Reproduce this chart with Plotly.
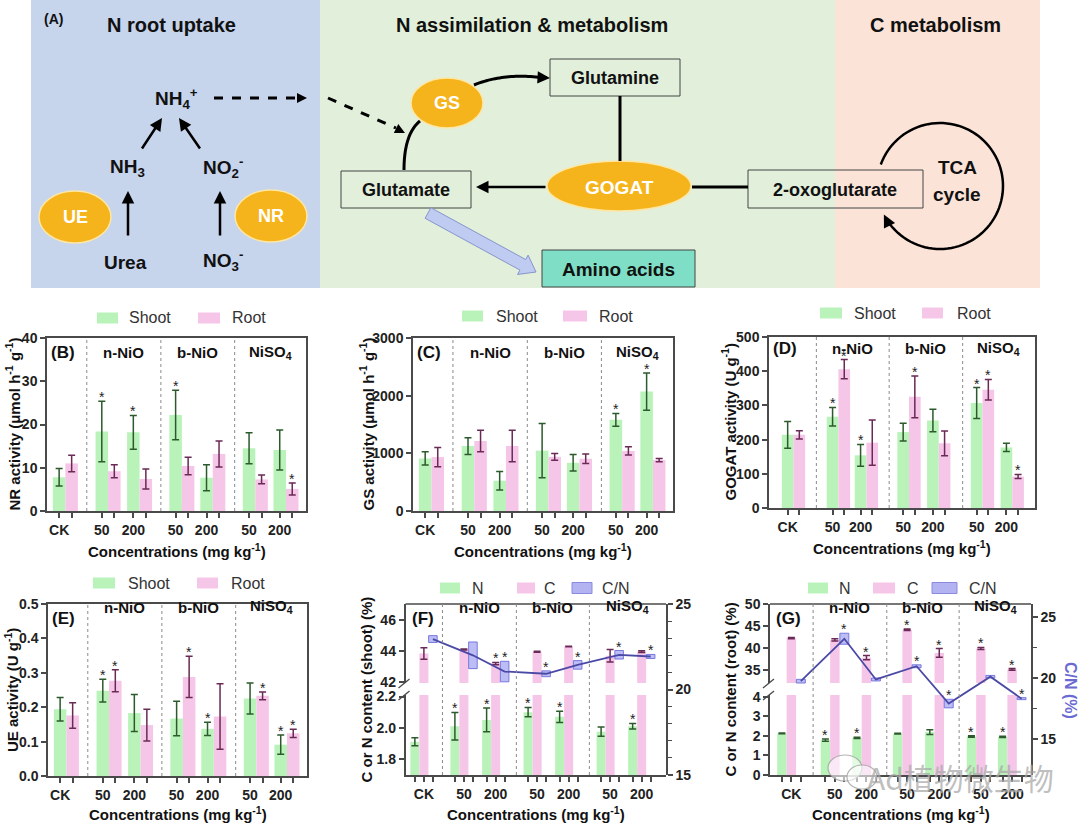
import numpy as np
import plotly.graph_objects as go

W, H = 1080, 823
FONT = "Liberation Sans, Arial, sans-serif"


def X(p):
    return p / W


def Y(p):
    return 1 - p / H


# ------------------------------------------------------------------ data
conc_labels = ["CK", "50", "200", "50", "200", "50", "200"]
group_labels = ["n-NiO", "b-NiO", "NiSO<sub>4</sub>"]

# (B) NR activity
nr_shoot = [7.8, 18.4, 18.2, 22.2, 7.7, 14.5, 14.1]
nr_shoot_sd = [2.0, 7.0, 3.9, 5.7, 3.0, 3.6, 4.6]
nr_root = [11.0, 9.2, 7.4, 10.4, 13.2, 7.3, 5.1]
nr_root_sd = [1.9, 1.5, 2.3, 2.0, 3.0, 1.0, 1.4]
nr_star_shoot = [0, 1, 1, 1, 0, 0, 0]
nr_star_root = [0, 0, 0, 0, 0, 0, 1]

# (C) GS activity
gs_shoot = [911, 1125, 525, 1047, 836, 1581, 2071]
gs_shoot_sd = [115, 144, 161, 470, 144, 110, 323]
gs_root = [935, 1214, 1128, 940, 906, 1041, 883]
gs_root_sd = [167, 187, 274, 58, 81, 72, 29]
gs_star_shoot = [0, 0, 0, 0, 0, 1, 1]
gs_star_root = [0, 0, 0, 0, 0, 0, 0]

# (D) GOGAT activity
gogat_shoot = [214, 267, 154, 222, 256, 307, 177]
gogat_shoot_sd = [39, 27, 32, 26, 33, 45, 12]
gogat_root = [214, 406, 191, 325, 189, 346, 92]
gogat_root_sd = [12, 28, 66, 61, 36, 30, 6]
gogat_star_shoot = [0, 1, 1, 0, 0, 1, 0]
gogat_star_root = [0, 1, 0, 1, 0, 1, 1]

# (E) UE activity
ue_shoot = [0.194, 0.248, 0.183, 0.167, 0.137, 0.225, 0.091]
ue_shoot_sd = [0.034, 0.033, 0.054, 0.050, 0.019, 0.045, 0.028]
ue_root = [0.176, 0.277, 0.148, 0.288, 0.173, 0.233, 0.124]
ue_root_sd = [0.037, 0.032, 0.046, 0.060, 0.095, 0.011, 0.012]
ue_star_shoot = [0, 1, 0, 0, 1, 0, 1]
ue_star_root = [0, 1, 0, 1, 0, 1, 1]

# (F) shoot C / N content and C/N
f_n = [1.91, 2.01, 2.05, 2.10, 2.07, 1.975, 2.01]
f_n_sd = [0.026, 0.088, 0.076, 0.03, 0.036, 0.03, 0.018]
f_c = [43.85, 44.1, 43.2, 43.96, 44.3, 43.7, 43.97]
f_c_sd = [0.37, 0.03, 0.07, 0.03, 0.02, 0.4, 0.06]
f_cn = [22.95, 22.0, 21.05, 20.92, 21.44, 22.03, 21.93]
f_cn_sd = [0.2, 0.78, 0.6, 0.17, 0.25, 0.25, 0.12]
f_star_n = [0, 1, 1, 1, 1, 0, 1]
f_star_c = [0, 0, 1, 0, 0, 0, 0]
f_star_cn = [0, 0, 1, 1, 1, 1, 1]

# (G) root C / N content and C/N
g_n = [2.13, 1.79, 1.90, 2.12, 2.20, 1.97, 1.95]
g_n_sd = [0.02, 0.06, 0.03, 0.02, 0.12, 0.04, 0.03]
g_c = [42.3, 41.9, 37.8, 44.2, 38.9, 39.9, 35.1]
g_c_sd = [0.15, 0.25, 0.5, 0.2, 1.0, 0.25, 0.2]
g_cn = [19.73, 23.2, 19.87, 20.95, 17.9, 20.1, 18.3]
g_cn_sd = [0.15, 0.45, 0.12, 0.12, 0.35, 0.1, 0.08]
g_star_n = [0, 1, 1, 0, 0, 1, 1]
g_star_c = [0, 0, 1, 1, 1, 1, 1]
g_star_cn = [0, 1, 0, 1, 1, 0, 1]

# ------------------------------------------------------------------ styles
GREEN = "#baf3ba"
PINK = "#f6c6e8"
GREEN_E = "#2c5a2c"
PINK_E = "#6a2a55"
CN_FILL = "rgba(145,145,240,0.6)"
CN_LINE = "rgba(110,110,220,0.9)"
CN_CURVE = "#4a4aa6"
AXC = "#4a4a4a"
TICKFONT = dict(family=FONT, size=14, color="#222", weight="bold")

fig = go.Figure()
shapes, anns, LAY = [], [], {}


def axkey(kind, i):
    return f"{kind}axis" if i == 1 else f"{kind}axis{i}"


def aref(kind, i):
    return kind if i == 1 else f"{kind}{i}"


def prect(x0, y0, x1, y1, fill, lc=None, lw=0, layer="above"):
    shapes.append(dict(type="rect", xref="paper", yref="paper", x0=X(x0), x1=X(x1),
                       y0=Y(y1), y1=Y(y0), fillcolor=fill,
                       line=dict(color=lc or fill, width=lw), layer=layer))


def pline(x0, y0, x1, y1, color="black", width=2.0, dash="solid"):
    shapes.append(dict(type="line", xref="paper", yref="paper", x0=X(x0), y0=Y(y0),
                       x1=X(x1), y1=Y(y1), line=dict(color=color, width=width, dash=dash)))


def pell(cx, cy, rx, ry, fill, lc, lw=1.5):
    shapes.append(dict(type="circle", xref="paper", yref="paper", x0=X(cx - rx), x1=X(cx + rx),
                       y0=Y(cy + ry), y1=Y(cy - ry), fillcolor=fill, line=dict(color=lc, width=lw)))


def ppath(pts, color="black", width=2.5, fill=None, closed=False):
    d = "M " + " L ".join(f"{X(x):.5f},{Y(y):.5f}" for x, y in pts)
    if closed:
        d += " Z"
    shapes.append(dict(type="path", xref="paper", yref="paper", path=d,
                       line=dict(color=color, width=width),
                       fillcolor=fill or "rgba(0,0,0,0)"))


def ptext(x, y, txt, size=16, color="#111", bold=True, xanchor="center", yanchor="middle",
          angle=0, family=FONT):
    anns.append(dict(xref="paper", yref="paper", x=X(x), y=Y(y),
                     text=f"<b>{txt}</b>" if bold else txt, showarrow=False,
                     font=dict(family=family, size=size, color=color),
                     xanchor=xanchor, yanchor=yanchor, textangle=angle))


def parrow(hx, hy, tx, ty, width=2.5, color="black", head=2, size=1.0):
    anns.append(dict(xref="paper", yref="paper", x=X(hx), y=Y(hy), ax=tx - hx, ay=ty - hy,
                     axref="pixel", ayref="pixel", text="", showarrow=True, arrowhead=head,
                     arrowsize=size, arrowwidth=width, arrowcolor=color, standoff=0))


def bez(p0, c, p1, n=30):
    t = np.linspace(0, 1, n)
    return [((1 - s) ** 2 * p0[0] + 2 * (1 - s) * s * c[0] + s ** 2 * p1[0],
             (1 - s) ** 2 * p0[1] + 2 * (1 - s) * s * c[1] + s ** 2 * p1[1]) for s in t]


# ------------------------------------------------------------------ panel A
prect(31, 0, 320, 288, "#c6d4ec", layer="below")
prect(320, 0, 835, 288, "#e1efdb", layer="below")
prect(835, 0, 1040, 288, "#fbe3d7", layer="below")
ptext(53, 19, "(A)", 14)
ptext(171, 25, "N root uptake", 20)
ptext(532, 25, "N assimilation &amp; metabolism", 20)
ptext(935, 25, "C metabolism", 20)

ptext(176, 98, "NH<sub>4</sub><sup>+</sup>", 19)
ptext(127, 168, "NH<sub>3</sub>", 19)
ptext(223, 167, "NO<sub>2</sub><sup>-</sup>", 19)
ptext(125, 262, "Urea", 19)
ptext(223, 261, "NO<sub>3</sub><sup>-</sup>", 19)

ORANGE = "#f5b41c"
pell(75, 217, 36, 26, ORANGE, "#fde7a6")
pell(271, 216, 36, 26, ORANGE, "#fde7a6")
pell(447, 103, 36, 25, ORANGE, "#fde7a6")
pell(619, 186, 72, 25, ORANGE, "#fde7a6")
ptext(75, 217, "UE", 18, color="white")
ptext(271, 216, "NR", 18, color="white")
ptext(447, 103, "GS", 18, color="white")
ptext(619, 187, "GOGAT", 19, color="white")

parrow(128, 191, 128, 237)
parrow(220, 191, 220, 237)
parrow(162, 118, 141, 150)
parrow(179, 118, 201, 150)

pline(214, 98, 298, 98, width=3, dash="dash")
parrow(307, 98, 297, 98, width=2)
pline(328, 98, 396, 128, width=3, dash="dash")
parrow(405, 133, 395, 128, width=2)

prect(341, 171, 471, 208, "rgba(0,0,0,0)", "#444", 1)
prect(550, 59, 680, 96, "rgba(0,0,0,0)", "#444", 1)
prect(748, 170, 923, 208, "rgba(0,0,0,0)", "#444", 1)
prect(542, 250, 695, 287, "#7fdfc6", "#444", 1)
ptext(406, 190, "Glutamate", 18)
ptext(615, 78, "Glutamine", 18)
ptext(835, 190, "2-oxoglutarate", 18)
ptext(618, 269, "Amino acids", 19)
ptext(957, 167, "TCA", 19)
ptext(957, 194, "cycle", 19)

ppath(bez((404, 170), (404, 134), (420, 121)), width=3)
ppath(bez((474, 85), (503, 73), (541, 77.5)), width=3)
parrow(550, 78, 540, 77.5, width=2.5)
pline(620, 96, 620, 161, width=3)
parrow(476, 187, 547, 187, width=2.5)
pline(692, 187, 748, 187, width=3)

cx, cy, r = 940, 186, 63
th = np.radians(np.linspace(-160, 149, 90))
ppath([(cx + r * np.cos(t), cy + r * np.sin(t)) for t in th], width=2.5)
te = np.radians(153)
hx, hy = cx + r * np.cos(te), cy + r * np.sin(te)
dx, dy = -np.sin(te), np.cos(te)
parrow(hx, hy, hx - 9 * dx, hy - 9 * dy, width=2.5)

T = np.array([428.0, 213.0])
P = np.array([536.0, 272.0])
d = (P - T) / np.linalg.norm(P - T)
n = np.array([-d[1], d[0]])
B = P - 15 * d
ppath([tuple(T + 6 * n), tuple(B + 6 * n), tuple(B + 11 * n), tuple(P),
       tuple(B - 11 * n), tuple(B - 6 * n), tuple(T - 6 * n)],
      color="#8795cc", width=1, fill="#bfcbf0", closed=True)


# ------------------------------------------------------------------ axis helpers
def style_x(domain, rng, anchor, tickvals, ticktext, mirror=True):
    return dict(domain=domain, range=rng, anchor=anchor, tickmode="array", tickvals=tickvals,
                ticktext=ticktext, ticks="outside", ticklen=5, tickwidth=1.5, tickcolor=AXC,
                showline=True, linecolor=AXC, linewidth=1.5, mirror=mirror, showgrid=False,
                zeroline=False, tickfont=TICKFONT, automargin=False)


def style_y(domain, rng, anchor, tickvals, fmt=None, side="left", mirror=False):
    dd = dict(domain=domain, range=rng, anchor=anchor, tickmode="array", tickvals=tickvals,
              ticks="outside", ticklen=5, tickwidth=1.5, tickcolor=AXC, showline=True,
              linecolor=AXC, linewidth=1.5, mirror=mirror, showgrid=False, zeroline=False,
              tickfont=TICKFONT, side=side, automargin=False)
    if fmt:
        dd["tickformat"] = fmt
    return dd


def star(xr, yr, x, y):
    anns.append(dict(xref=xr, yref=yr, x=x, y=y, text="*", showarrow=False, yanchor="bottom",
                     yshift=-6, font=dict(family=FONT, size=14, color="#222")))


def legend(items, yc):
    for x0, x1, fill, lc, tx, lab in items:
        prect(x0, yc - 5.5, x1, yc + 5.5, fill, lc, 1 if lc else 0)
        ptext(tx, yc, lab, 16, color="#333", bold=False, xanchor="left")


def bar(x, y, sd, color, ecolor, xr, yr, err=True, width=1.0):
    fig.add_trace(go.Bar(x=x, y=y, width=width, marker=dict(color=color, line=dict(width=0)),
                         error_y=dict(type="data", array=sd, color=ecolor, thickness=1.5,
                                      width=3.5, visible=err),
                         xaxis=xr, yaxis=yr, showlegend=False, hoverinfo="skip"))


def group_text(xr, seps, xend, ytop, label, label_x, off=14):
    bounds = list(seps) + [xend]
    for g in range(3):
        anns.append(dict(xref=xr, yref="paper", x=(bounds[g] + bounds[g + 1]) / 2,
                         y=Y(ytop + off), text=f"<b>{group_labels[g]}</b>", showarrow=False,
                         font=dict(family=FONT, size=15, color="#111")))
    ptext(label_x, ytop + off, label, 17, xanchor="left")


def separators(xr, seps, ytop, ybot):
    for s in seps:
        shapes.append(dict(type="line", xref=xr, yref="paper", x0=s, x1=s, y0=Y(ybot), y1=Y(ytop),
                           line=dict(color="#8a8a8a", width=1, dash="dot")))


def two_bar_panel(i, xpx, ypx, yr, yticks, fmt, pos, seps, xend, shoot, ssd, root, rsd,
                  sst, rst, label, ytitle, ytx, xty, leg, off=14):
    xr, yrf = aref("x", i), aref("y", i)
    tv, tt = [], []
    for k, p in enumerate(pos):
        tv += [p, p + 1]
        tt += [conc_labels[k], ""]
    LAY[axkey("x", i)] = style_x([X(xpx[0]), X(xpx[1])], [0, xend], yrf, tv, tt)
    LAY[axkey("y", i)] = style_y([Y(ypx[1]), Y(ypx[0])], yr, xr, yticks, fmt, mirror=True)
    rpos = [p + 1 for p in pos]
    bar(pos, shoot, ssd, GREEN, GREEN_E, xr, yrf)
    bar(rpos, root, rsd, PINK, PINK_E, xr, yrf)
    separators(xr, seps, ypx[0], ypx[1])
    group_text(xr, seps, xend, ypx[0], label, xpx[0] + 2, off)
    ptext(ytx, (ypx[0] + ypx[1]) / 2, ytitle, 15, angle=-90)
    ptext((xpx[0] + xpx[1]) / 2, xty, "Concentrations (mg kg<sup>-1</sup>)", 15)
    for k in range(7):
        if sst[k]:
            star(xr, yrf, pos[k], shoot[k] + ssd[k])
        if rst[k]:
            star(xr, yrf, rpos[k], root[k] + rsd[k])
    legend(leg[1], leg[0])


POS_A = [0.97, 4.38, 6.9, 10.28, 12.75, 16.15, 18.6]
SEP_A = [3.18, 9.1, 15.0]
END_A = 20.7
POS_D = [1.6, 5.45, 7.85, 11.5, 14.05, 17.8, 20.35]
SEP_D = [4.06, 10.3, 16.6]
END_D = 22.8

two_bar_panel(1, (47, 306), (338, 511), [0, 40], [0, 10, 20, 30, 40], None, POS_A, SEP_A, END_A,
              nr_shoot, nr_shoot_sd, nr_root, nr_root_sd, nr_star_shoot, nr_star_root,
              "(B)", "NR activity (μmol h<sup>-1</sup> g<sup>-1</sup>)", 13, 550,
              (318, [(97, 118, GREEN, None, 127, "Shoot"), (198, 220, PINK, None, 230, "Root")]))
two_bar_panel(2, (413, 673), (338, 511), [0, 3000], [0, 1000, 2000, 3000], None, POS_A, SEP_A,
              END_A, gs_shoot, gs_shoot_sd, gs_root, gs_root_sd, gs_star_shoot, gs_star_root,
              "(C)", "GS activity (μmol h<sup>-1</sup> g<sup>-1</sup>)", 367, 550,
              (316, [(462, 483, GREEN, None, 494, "Shoot"), (563, 587, PINK, None, 597, "Root")]))
two_bar_panel(3, (769, 1035), (337, 508), [0, 500], [0, 100, 200, 300, 400, 500], None, POS_D,
              SEP_D, END_D, gogat_shoot, gogat_shoot_sd, gogat_root, gogat_root_sd,
              gogat_star_shoot, gogat_star_root,
              "(D)", "GOGAT activity (U g<sup>-1</sup>)", 729, 547,
              (313, [(820, 842, GREEN, None, 852, "Shoot"), (922, 943, PINK, None, 955, "Root")]),
              off=11)
two_bar_panel(4, (48, 307), (604, 776), [0, 0.5], [0, 0.1, 0.2, 0.3, 0.4, 0.5], ".1f", POS_A,
              SEP_A, END_A, ue_shoot, ue_shoot_sd, ue_root, ue_root_sd, ue_star_shoot,
              ue_star_root, "(E)", "UE activity (U g<sup>-1</sup>)", 11, 813,
              (583, [(93, 115, GREEN, None, 126, "Shoot"), (197, 218, PINK, None, 229, "Root")]))


def broken_panel(xi, ylo, yup, xov, yri, xpx, lo_rng, lo_ticks, lo_fmt, up_rng, up_ticks,
                 r_rng, r_ticks, r_minor, npos, seps, xend, Nv, Nsd, Cv, Csd, CNv, CNsd,
                 nst, cst, cnst, label, ytitle, ytx, leg, rtitle=None):
    top, bot, lo_top, up_bot = 604, 775, 695, 683
    xr = aref("x", xi)
    xo = aref("x", xov)
    yl, yu, yr = aref("y", ylo), aref("y", yup), aref("y", yri)
    tv, tt = [], []
    for k, p in enumerate(npos):
        tv += [p, p + 1, p + 2]
        tt += ["", conc_labels[k], ""]
    dom = [X(xpx[0]), X(xpx[1])]
    LAY[axkey("x", xi)] = style_x(dom, [0, xend], yl, tv, tt, mirror=False)
    LAY[axkey("y", ylo)] = style_y([Y(bot), Y(lo_top)], lo_rng, xr, lo_ticks, lo_fmt)
    LAY[axkey("y", yup)] = style_y([Y(up_bot), Y(top)], up_rng, xr, up_ticks)
    LAY[axkey("x", xov)] = dict(overlaying=xr, range=[0, xend], anchor=yr, showline=False,
                                showticklabels=False, ticks="", showgrid=False, zeroline=False,
                                automargin=False)
    ry = style_y([Y(bot), Y(top)], r_rng, xo, r_ticks, side="right")
    ry["minor"] = dict(tickvals=r_minor, ticks="outside", ticklen=4, tickwidth=1.2,
                       tickcolor=AXC)
    LAY[axkey("y", yri)] = ry

    cpos = [p + 1 for p in npos]
    cnpos = [p + 2 for p in npos]
    # lower segment (N scale)
    bar(npos, Nv, Nsd, GREEN, GREEN_E, xr, yl)
    bar(cpos, Cv, Csd, PINK, PINK_E, xr, yl, err=False)
    # upper segment (C scale)
    bar(npos, Nv, Nsd, GREEN, GREEN_E, xr, yu, err=False)
    bar(cpos, Cv, Csd, PINK, PINK_E, xr, yu)
    # C/N boxes and line on right axis
    fig.add_trace(go.Bar(x=cnpos, y=[2 * s for s in CNsd], base=[m - s for m, s in zip(CNv, CNsd)],
                         width=0.95, marker=dict(color=CN_FILL, line=dict(color=CN_LINE, width=1)),
                         xaxis=xo, yaxis=yr, showlegend=False, hoverinfo="skip"))
    fig.add_trace(go.Scatter(x=cnpos, y=CNv, mode="lines", line=dict(color=CN_CURVE, width=1.8),
                             xaxis=xo, yaxis=yr, showlegend=False, hoverinfo="skip"))

    pline(xpx[0], top, xpx[1], top, color=AXC, width=1.5)
    pline(xpx[0] - 7, up_bot + 5, xpx[0] + 4, up_bot - 4, color=AXC, width=1.3)
    pline(xpx[0] - 7, lo_top + 5, xpx[0] + 4, lo_top - 4, color=AXC, width=1.3)
    separators(xr, seps, top, bot)
    group_text(xr, seps, xend, top, label, xpx[0] + 4)
    ptext(ytx, (top + bot) / 2, ytitle, 15, angle=-90)
    ptext((xpx[0] + xpx[1]) / 2, 813, "Concentrations (mg kg<sup>-1</sup>)", 15)
    if rtitle:
        ptext(1071, 690, rtitle, 16, color="#6a6ad2", angle=90)
    for k in range(7):
        if nst[k]:
            star(xr, yl, npos[k], Nv[k] + Nsd[k])
        if cst[k]:
            star(xr, yu, cpos[k], Cv[k] + Csd[k])
        if cnst[k]:
            star(xo, yr, cnpos[k], CNv[k] + CNsd[k])
    legend(leg, 588)


POS_F = [1.04, 5.48, 9.0, 13.6, 17.1, 21.7, 25.2]
SEP_F = [4.1, 12.3, 20.4]
POS_G = [1.26, 5.86, 9.2, 13.5, 16.9, 21.3, 24.6]
SEP_G = [4.56, 12.35, 20.0]
CN_SW = "#b3b3f2"

broken_panel(5, 5, 6, 6, 7, (405.5, 666), [1.697, 2.21], [1.8, 2.0, 2.2], ".1f",
             [41.95, 47.03], [42, 44, 46], [15, 25], [15, 20, 25],
             [16, 17, 18, 19, 21, 22, 23, 24], POS_F, SEP_F, 28.9,
             f_n, f_n_sd, f_c, f_c_sd, f_cn, f_cn_sd, f_star_n, f_star_c, f_star_cn,
             "(F)", "C or N content (shoot) (%)", 366,
             [(440, 460, GREEN, None, 470, "N"), (517, 535, PINK, None, 542, "C"),
              (572, 592, CN_SW, "#8a8ae0", 600, "C/N")])
broken_panel(7, 8, 9, 8, 10, (770, 1031), [0, 4.1], [0, 1, 2, 3, 4], None,
             [32.0, 50.1], [35, 40, 45, 50], [12.06, 26.04], [15, 20, 25],
             [17.5, 22.5], POS_G, SEP_G, 27.6,
             g_n, g_n_sd, g_c, g_c_sd, g_cn, g_cn_sd, g_star_n, g_star_c, g_star_cn,
             "(G)", "C or N content (root) (%)", 730,
             [(808, 828, GREEN, None, 837, "N"), (873, 895, PINK, None, 905, "C"),
              (932, 957, CN_SW, "#8a8ae0", 967, "C/N")], rtitle="C/N (%)")

# watermark
pell(845, 768, 17, 13, "rgba(255,255,255,0.6)", "rgba(160,160,160,0.8)", 1.2)
pell(862, 777, 15, 12, "rgba(255,255,255,0.6)", "rgba(160,160,160,0.8)", 1.2)
ptext(960, 777, "Ad植物微生物", 30, color="rgba(170,170,170,0.75)", bold=False,
      family="Noto Sans CJK SC")

fig.update_layout(**LAY)
fig.update_layout(width=W, height=H, margin=dict(l=0, r=0, t=0, b=0, pad=0, autoexpand=False),
                  barmode="overlay", paper_bgcolor="white", plot_bgcolor="rgba(0,0,0,0)",
                  showlegend=False, shapes=shapes, annotations=anns,
                  font=dict(family=FONT, color="#222"))
fig.write_html("out.html", config={"displayModeBar": False},
               post_script="document.body.style.margin='0px';")
